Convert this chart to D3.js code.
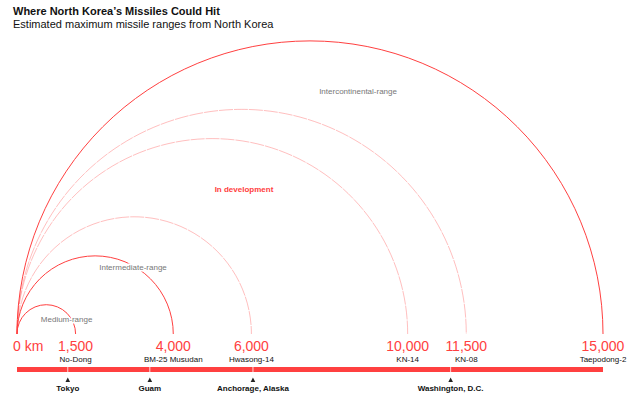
<!DOCTYPE html>
<html><head><meta charset="utf-8">
<script src="https://cdn.jsdelivr.net/npm/d3@7"></script>
<style>
body{margin:0;background:#fff;}
text{font-family:"Liberation Sans",Arial,Helvetica,sans-serif;}
</style></head>
<body><svg id="c" width="640" height="405"></svg>
<script>
const missileRanges = [1500, 4000, 6000, 10000, 11500, 15000];
const missileNames = ["No-Dong", "BM-25 Musudan", "Hwasong-14", "KN-14", "KN-08", "Taepodong-2"];
const inDevelopment = [false, false, true, true, true, false];
const cityNames = ["Tokyo", "Guam", "Anchorage, Alaska", "Washington, D.C."];
const cityDistances = [1300, 3400, 6040, 11100];
const classNames = ["Medium-range", "Intermediate-range", "In development", "Intercontinental-range"];
const classAt = [1270, 2970, 5810, 8730];

const RED = "#ff4040";
const svg = d3.select("#c");
const x = d3.scaleLinear().domain([0, 15000]).range([17, 603]);
const baseY = 334;

svg.append("text").attr("x", 13).attr("y", 15).attr("font-size", 11).attr("font-weight", "bold").attr("fill", "#111")
  .text("Where North Korea\u2019s Missiles Could Hit");
svg.append("text").attr("x", 13).attr("y", 28).attr("font-size", 11).attr("fill", "#111")
  .text("Estimated maximum missile ranges from North Korea");

// arcs
missileRanges.forEach((v, i) => {
  const r = (x(v) - x(0)) / 2;
  const p = d3.path();
  p.arc(x(0) + r, baseY, r, Math.PI, 2 * Math.PI);
  const path = svg.append("path").attr("d", p.toString()).attr("fill", "none");
  if (inDevelopment[i]) {
    path.attr("stroke", RED).attr("stroke-opacity", 0.42).attr("stroke-width", 0.8).attr("stroke-dasharray", "14,1");
  } else {
    path.attr("stroke", RED).attr("stroke-width", 1);
  }
});

// class labels
const classY = [322, 270, 192, 94];
classNames.forEach((n, i) => {
  const isDev = n === "In development";
  const t = svg.append("text").attr("x", x(classAt[i])).attr("y", classY[i]).attr("text-anchor", "middle")
    .attr("font-size", 8).text(n);
  if (isDev) t.attr("fill", RED).attr("font-weight", "bold");
  else t.attr("fill", "#777").attr("stroke", "#fff").attr("stroke-width", 3).attr("paint-order", "stroke");
});

// value labels
svg.append("text").attr("x", 13).attr("y", 351).attr("font-size", 14).attr("fill", RED).text("0 km");
missileRanges.forEach((v, i) => {
  svg.append("text").attr("x", x(v)).attr("y", 351).attr("text-anchor", "middle").attr("font-size", 14)
    .attr("fill", RED).text(d3.format(",")(v));
  svg.append("text").attr("x", x(v)).attr("y", 362).attr("text-anchor", "middle").attr("font-size", 8)
    .attr("fill", "#111").text(missileNames[i]);
});

// bar
svg.append("rect").attr("x", x(0)).attr("y", 367).attr("width", x(15000) - x(0)).attr("height", 5).attr("fill", RED);

// cities
cityNames.forEach((c, i) => {
  const cx = x(cityDistances[i]);
  svg.append("line").attr("x1", cx).attr("x2", cx).attr("y1", 367).attr("y2", 372).attr("stroke", "#fff").attr("stroke-width", 0.8);
  svg.append("path").attr("d", `M${cx - 2.3},382 L${cx + 2.3},382 L${cx},377.5 Z`).attr("fill", "#222");
  svg.append("text").attr("x", cx).attr("y", 391).attr("text-anchor", "middle").attr("font-size", 8)
    .attr("font-weight", "bold").attr("fill", "#111").text(c);
});
</script></body></html>
